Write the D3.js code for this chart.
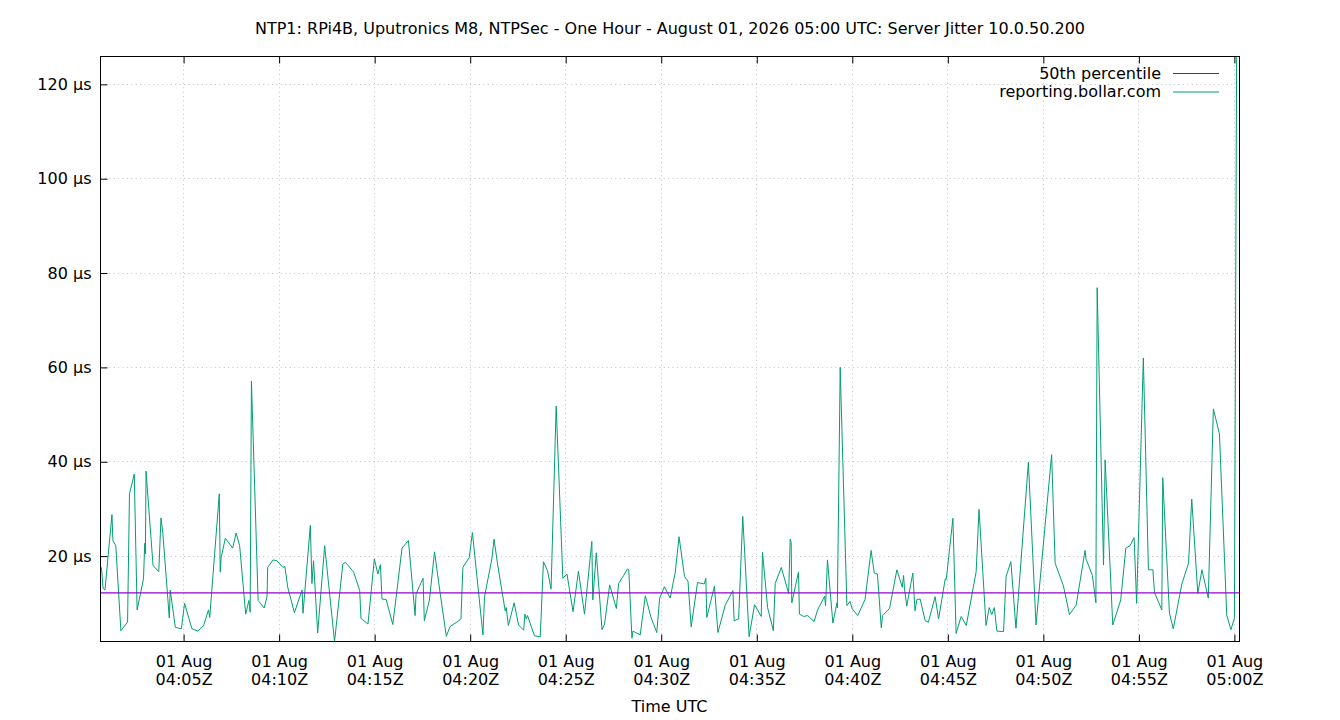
<!DOCTYPE html>
<html>
<head>
<meta charset="utf-8">
<script src="https://cdn.jsdelivr.net/npm/d3@7"></script>
<style>
body { margin: 0; background: #fff; }
text { font-family: "DejaVu Sans", sans-serif; font-size: 16px; fill: #000; }
</style>
</head>
<body>
<div id="chart"></div>
<script>
var day = "2026-08-01";
var chartTitle = "NTP1: RPi4B, Uputronics M8, NTPSec - One Hour - August 01, 2026 05:00 UTC: Server Jitter 10.0.50.200";

var sampleTimes = [
"04:00:42","04:00:47","04:00:53","04:01:15","04:01:18","04:01:27","04:01:43","04:02:04","04:02:10","04:02:25",
"04:02:34","04:02:54","04:02:58","04:03:00","04:03:02","04:03:24","04:03:42","04:03:49","04:03:55","04:04:15",
"04:04:18","04:04:34","04:04:53","04:05:03","04:05:26","04:05:45","04:06:03","04:06:18","04:06:22","04:06:52",
"04:06:55","04:06:58","04:07:11","04:07:34","04:07:45","04:07:56","04:08:15","04:08:25","04:08:29","04:08:33",
"04:08:54","04:09:13","04:09:22","04:09:24","04:09:41","04:09:53","04:10:12","04:10:18","04:10:27","04:10:48",
"04:11:12","04:11:15","04:11:38","04:11:43","04:11:48","04:12:01","04:12:23","04:12:54","04:13:20","04:13:28",
"04:13:54","04:14:13","04:14:17","04:14:39","04:14:59","04:15:10","04:15:18","04:15:23","04:15:36","04:15:57",
"04:16:26","04:16:46","04:17:07","04:17:10","04:17:32","04:17:36","04:17:52","04:18:08","04:18:26","04:18:45",
"04:18:57","04:19:18","04:19:31","04:19:37","04:19:57","04:20:07","04:20:40","04:20:45","04:21:08","04:21:15",
"04:21:26","04:21:50","04:21:53","04:22:00","04:22:18","04:22:32","04:22:48","04:22:52","04:22:56","04:23:00",
"04:23:22","04:23:40","04:23:50","04:24:03","04:24:14","04:24:30","04:24:51","04:25:04","04:25:23","04:25:40",
"04:25:59","04:26:22","04:26:25","04:26:36","04:26:54","04:27:02","04:27:18","04:27:39","04:27:46","04:28:02",
"04:28:14","04:28:18","04:28:28","04:28:31","04:28:54","04:29:10","04:29:28","04:29:46","04:29:55","04:30:10",
"04:30:28","04:30:44","04:30:56","04:31:13","04:31:24","04:31:34","04:31:54","04:32:15","04:32:20","04:32:23",
"04:32:47","04:32:58","04:33:21","04:33:45","04:33:49","04:34:03","04:34:16","04:34:36","04:34:53","04:35:14",
"04:35:18","04:35:34","04:35:52","04:35:58","04:36:17","04:36:40","04:36:45","04:36:48","04:36:50","04:37:11",
"04:37:14","04:37:27","04:37:40","04:38:00","04:38:11","04:38:33","04:38:36","04:38:42","04:38:59","04:39:12",
"04:39:13","04:39:22","04:39:43","04:39:53","04:40:00","04:40:17","04:40:40","04:40:59","04:41:09","04:41:19",
"04:41:31","04:41:35","04:41:57","04:42:20","04:42:37","04:42:41","04:42:44","04:42:51","04:43:10","04:43:17",
"04:43:23","04:43:33","04:43:49","04:43:59","04:44:20","04:44:31","04:44:52","04:44:55","04:45:16","04:45:26",
"04:45:42","04:45:58","04:46:29","04:46:38","04:47:00","04:47:10","04:47:18","04:47:26","04:47:34","04:47:55",
"04:48:03","04:48:18","04:48:34","04:49:13","04:49:37","04:50:02","04:50:26","04:50:37","04:51:03","04:51:22",
"04:51:43","04:52:11","04:52:14","04:52:34","04:52:45","04:52:49","04:53:09","04:53:14","04:53:38","04:54:03",
"04:54:19","04:54:32","04:54:45","04:54:53","04:55:14","04:55:30","04:55:44","04:55:49","04:56:12","04:56:15",
"04:56:36","04:56:48","04:57:15","04:57:36","04:57:46","04:58:05","04:58:18","04:58:38","04:58:54","04:59:13",
"04:59:36","04:59:49","05:00:00","05:00:07"
];

var jitterValues = [
17.6,13.2,12.8,28.8,23.3,22.2,4.2,6.0,33.2,37.4,
8.6,15.2,22.7,20.5,38.0,18.0,16.7,28.1,24.7,6.9,
12.8,4.9,4.6,10.0,4.6,4.1,5.3,8.6,7.0,33.2,
16.6,19.7,23.8,21.7,24.9,22.2,7.7,10.6,8.1,57.1,
10.6,9.0,11.4,17.6,19.2,19.0,17.6,17.8,13.4,8.0,
12.8,7.9,26.5,14.2,19.0,3.7,22.2,1.9,18.3,18.7,
16.6,12.7,6.8,5.6,19.4,16.2,18.2,10.9,10.8,5.5,
21.7,23.3,7.4,12.0,15.3,6.3,10.7,20.9,12.0,3.0,
5.1,6.0,6.7,17.6,19.7,25.0,3.3,11.4,19.4,23.6,
18.3,8.4,9.1,5.3,10.1,5.4,4.3,7.7,6.7,7.4,
3.1,2.9,18.8,16.9,13.0,51.8,15.3,16.2,8.2,16.8,
7.7,23.1,10.7,20.7,4.4,5.6,13.9,8.9,14.2,15.9,
17.3,17.1,2.6,4.1,3.3,11.6,7.0,3.8,11.1,13.5,
11.1,16.6,24.1,15.7,14.7,5.0,14.4,14.1,15.3,7.0,
13.6,3.8,9.6,12.7,6.3,6.7,28.4,2.9,9.7,7.2,
20.8,9.1,4.2,14.2,17.6,12.1,23.6,22.9,10.1,16.6,
7.7,7.2,7.4,6.1,8.6,11.5,9.5,19.2,5.8,10.1,
9.0,60.0,9.5,10.4,8.8,7.4,10.8,21.2,16.4,16.2,
4.8,7.4,8.9,17.1,13.4,15.9,13.0,9.4,16.4,8.4,
10.8,10.9,6.3,6.0,11.4,6.7,15.2,15.0,28.0,3.6,
7.2,5.3,16.7,29.9,5.3,9.1,7.6,9.1,4.1,4.0,
15.7,18.8,4.7,39.9,5.4,24.0,41.5,18.5,13.7,7.6,
9.6,21.2,19.4,15.9,10.1,76.9,18.1,40.4,5.4,10.7,
21.7,22.2,23.9,10.0,62.0,17.1,17.1,12.3,8.6,36.6,
7.9,4.6,14.1,18.5,32.1,12.1,17.1,11.1,51.2,45.9,
7.5,4.4,6.8,125.9
];

var percentile50 = [12.2];
var timeRange = ["04:00:39", "05:00:16"];
var xTickTimes = ["04:05","04:10","04:15","04:20","04:25","04:30","04:35","04:40","04:45","04:50","04:55","05:00"];
var yTickValues = [20, 40, 60, 80, 100, 120];
var legendNames = ["50th percentile", "reporting.bollar.com"];
var legendColors = ["#9400d3", "#009e73"];

var width = 1340, height = 720;
var margin = {top: 56, right: 101, bottom: 79, left: 100};
var plotW = width - margin.left - margin.right,
    plotH = height - margin.top - margin.bottom;

var parseFull = d3.utcParse("%Y-%m-%d %H:%M:%S"),
    parseShort = d3.utcParse("%Y-%m-%d %H:%M");

var data = [];
sampleTimes.forEach(function(t, i) {
	data.push({t: parseFull(day + " " + t), v: jitterValues[i]});
});

var svg = d3.select("#chart")
	.append("svg")
	.attr("width", width)
	.attr("height", height);

var x = d3.scaleUtc()
	.domain(timeRange.map(function(t) { return parseFull(day + " " + t); }))
	.range([0, plotW]);
var y = d3.scaleLinear()
	.domain(d3.extent(jitterValues))
	.range([plotH, 0]);

var xTicks = xTickTimes.map(function(t) { return parseShort(day + " " + t); });

svg.append("text")
	.attr("x", width / 2)
	.attr("y", 34)
	.attr("text-anchor", "middle")
	.text(chartTitle);

var g = svg.append("g")
	.attr("transform", "translate(" + (margin.left + 0.5) + "," + (margin.top + 0.5) + ")");

// dotted grid
g.selectAll(".gx")
	.data(xTicks)
	.enter().append("line")
	.attr("x1", function(d) { return Math.round(x(d)); })
	.attr("x2", function(d) { return Math.round(x(d)); })
	.attr("y1", 0).attr("y2", plotH)
	.attr("stroke", "#c0c0c0")
	.attr("stroke-dasharray", "1,3.4");
g.selectAll(".gy")
	.data(yTickValues)
	.enter().append("line")
	.attr("x1", 0).attr("x2", plotW)
	.attr("y1", function(d) { return Math.round(y(d)); })
	.attr("y2", function(d) { return Math.round(y(d)); })
	.attr("stroke", "#c0c0c0")
	.attr("stroke-dasharray", "1,3.4");

g.append("clipPath").attr("id", "plotclip")
	.append("rect").attr("x", 0).attr("y", -1).attr("width", plotW).attr("height", plotH + 2);

var line = d3.line()
	.x(function(d) { return x(d.t); })
	.y(function(d) { return y(d.v); });

g.append("path")
	.datum(data)
	.attr("clip-path", "url(#plotclip)")
	.attr("fill", "none")
	.attr("stroke", legendColors[1])
	.attr("stroke-width", 1)
	.attr("d", line);

g.selectAll(".p50")
	.data(percentile50)
	.enter().append("line")
	.attr("x1", 0).attr("x2", plotW)
	.attr("y1", function(d) { return y(d); })
	.attr("y2", function(d) { return y(d); })
	.attr("stroke", legendColors[0])
	.attr("stroke-width", 1.2);

// axes, ticks point inward
var yAxis = g.append("g")
	.call(d3.axisLeft(y).tickValues(yTickValues).tickSize(-7).tickPadding(9)
		.tickFormat(function(d) { return d + " µs"; }));
var xAxis = g.append("g")
	.attr("transform", "translate(0," + plotH + ")")
	.call(d3.axisBottom(x).tickValues(xTicks).tickSize(-7).tickFormat(""));
var xTop = g.append("g")
	.call(d3.axisTop(x).tickValues(xTicks).tickSize(-7).tickFormat(""));

[yAxis, xAxis, xTop].forEach(function(a) {
	a.select(".domain").remove();
	a.attr("font-family", null).attr("font-size", null);
	a.selectAll("line").attr("stroke", "#000");
});

var fmtDay = d3.utcFormat("%d %b"),
    fmtTime = d3.utcFormat("%H:%MZ");
xAxis.selectAll(".tick").each(function(d) {
	var t = d3.select(this).select("text")
		.attr("y", 25).attr("dy", null).text(null);
	t.append("tspan").attr("x", 0).text(fmtDay(d));
	t.append("tspan").attr("x", 0).attr("dy", 18.5).text(fmtTime(d));
});

g.append("rect")
	.attr("width", plotW).attr("height", plotH)
	.attr("fill", "none")
	.attr("stroke", "#000");

svg.append("text")
	.attr("x", margin.left + plotW / 2)
	.attr("y", 712)
	.attr("text-anchor", "middle")
	.text("Time UTC");

// legend
var legend = svg.append("g").attr("transform", "translate(0,73)");
legendNames.forEach(function(name, i) {
	legend.append("text")
		.attr("x", 1161)
		.attr("y", i * 18.5)
		.attr("dy", "0.35em")
		.attr("text-anchor", "end")
		.text(name);
	legend.append("line")
		.attr("x1", 1173).attr("x2", 1219)
		.attr("y1", i * 18.5 + 0.5).attr("y2", i * 18.5 + 0.5)
		.attr("stroke", legendColors[i]);
});
</script>
</body>
</html>
